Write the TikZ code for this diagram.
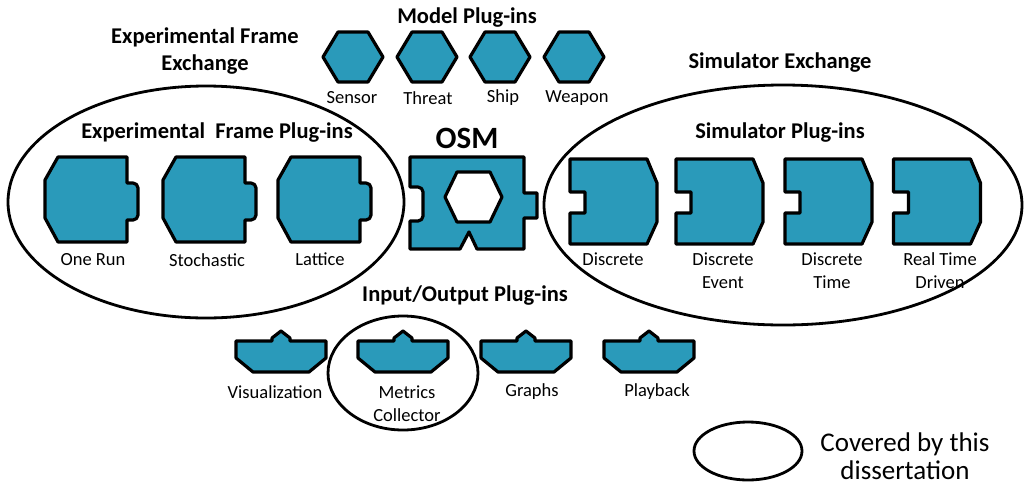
\documentclass[tikz,border=0pt]{standalone}
\usepackage{fontspec}
\setmainfont{Carlito}
\definecolor{plugblue}{RGB}{42,154,186}
\tikzset{
  plugin/.style={fill=plugblue, draw=black, line width=3.2pt, line join=round},
  group/.style={draw=black, line width=2.8pt},
  lbl/.style={inner sep=0, align=center, font=\fontsize{18.5}{23}\selectfont},
  ttl/.style={inner sep=0, align=center, font=\bfseries\fontsize{22.5}{27}\selectfont}
}

\begin{document}
\begin{tikzpicture}[x=1pt, y=-1pt]
\useasboundingbox (0,0) rectangle (1026,491);
% Experimental frame
\draw [group](206, 202) ellipse (198 and 116);
\foreach \cx in {86, 204, 319}
  \draw [plugin, shift={(\cx, 199.5)}](-28,-42.5) -- (41,-42.5) -- (41,-16.5) [rounded corners=5] -- (52,-16.5) -- (52, 20.5) [sharp corners] -- (41, 20.5) -- (41, 42.5) -- (-28, 42.5) -- (-41, 18.5) -- (-41,-19.5) -- cycle;
% Simulator
\draw [group](783, 205) ellipse (239 and 120);
\foreach \cx in {613.5, 719.5, 828.5, 937}
  \draw [plugin, shift={(\cx, 201.5)}](-43.5,-42.5) -- (33.5,-42.5) -- (43.5,-18.5) -- (43.5, 20.5) -- (33.5, 42.5) -- (-43.5, 42.5) -- (-43.5, 11.5) -- (-28.5, 11.5) -- (-28.5,-9.5) -- (-43.5,-9.5) -- cycle;
% OSM
\draw [plugin](410, 157) -- (524, 157) -- (524, 193) -- (537, 193) -- (537, 218) -- (524, 218) -- (524, 249) -- (477, 249) -- (469, 232) -- (460, 249) -- (410, 249) -- (410, 221) [rounded corners=5] -- (423, 221) -- (423, 187) [sharp corners] -- (410, 187) -- cycle;
\draw [plugin, fill=white](445, 197) -- (457, 172) -- (490, 172) -- (502, 197) -- (490, 222) -- (457, 222) -- cycle;
% Model
\foreach \cx in {353, 427, 500, 574}
  \draw [plugin, shift={(\cx, 57)}](-30, 0) -- (-15,-25) -- (15,-25) -- (30, 0) -- (15, 25) -- (-15, 25) -- cycle;
% Input/Output
\draw [group](403, 373) ellipse (75 and 57);
\foreach \cx in {281, 403, 526, 649}
  \draw [plugin, shift={(\cx, 357)}](-45,-16) -- (-9,-16) -- (-9,-19) -- (0,-26) -- (9,-19) -- (9,-16) -- (45,-16) -- (45, 1) -- (28, 15) -- (-28, 15) -- (-45, 1) -- cycle;
% Legend
\draw [group](748, 451) ellipse (54 and 29);
%Text
\draw (467, 18) node[ttl] (modeltitle) {Model Plug-ins};
\draw (205, 51) node[ttl] (efexchange) {Experimental Frame\\Exchange};
\draw (780, 63) node[ttl] (simexchange) {Simulator Exchange};
\draw (217, 133) node[ttl] (eftitle) {Experimental\ \ Frame Plug-ins};
\draw (780, 133) node[ttl] (simtitle) {Simulator Plug-ins};
\draw (467, 138) node[ttl, font=\bfseries\fontsize{31}{34}\selectfont] (osm) {OSM};
\draw (465, 296) node[ttl] (iotitle) {Input/Output Plug-ins};
\draw (352, 98) node[lbl] (sensor) {Sensor};
\draw (428, 98) node[lbl] (threat) {Threat};
\draw (503, 98) node[lbl] (ship) {Ship};
\draw (577, 98) node[lbl] (weapon) {Weapon};
\draw (93, 260) node[lbl] (onerun) {One Run};
\draw (207, 260) node[lbl] (stochastic) {Stochastic};
\draw (320, 259) node[lbl] (lattice) {Lattice};
\draw (613, 259) node[lbl] (discrete) {Discrete};
\draw (723, 270.5) node[lbl] (devent) {Discrete\\Event};
\draw (832, 270.5) node[lbl] (dtime) {Discrete\\Time};
\draw (940, 270.5) node[lbl] (realtime) {Real Time\\Driven};
\draw (275, 392) node[lbl] (visual) {Visualization};
\draw (407, 403.5) node[lbl] (metrics) {Metrics\\Collector};
\draw (532, 392) node[lbl] (graphs) {Graphs};
\draw (657, 392) node[lbl] (playback) {Playback};
\draw (905, 456) node[lbl, font=\fontsize{27}{28}\selectfont] (legend) {Covered by this\\dissertation};
\end{tikzpicture}
\end{document}
